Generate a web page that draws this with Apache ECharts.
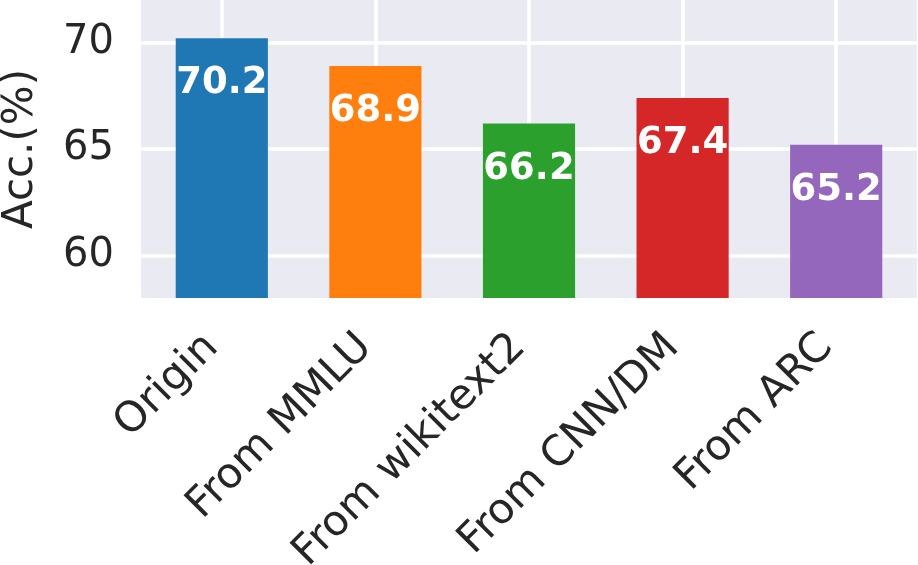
<!DOCTYPE html>
<html>
<head>
<meta charset="utf-8">
<script src="https://cdn.jsdelivr.net/npm/echarts@6/dist/echarts.min.js"></script>
<style>
html,body{margin:0;padding:0;background:#fff;}
#main{width:918px;height:565px;}
</style>
</head>
<body>
<div id="main"></div>
<script>
const categories = ['Origin', 'From MMLU', 'From wikitext2', 'From CNN/DM', 'From ARC'];
const accuracy = [70.2, 68.9, 66.2, 67.4, 65.2];
const barColors = ['#1f77b4', '#ff7f0e', '#2ca02c', '#d62728', '#9467bd'];
const yTicks = [60, 65, 70];
const yMin = 58, yMax = 72;

const FONT = '"DejaVu Sans", "Liberation Sans", sans-serif';
const TXT = '#262626';

const splitColors = [];
for (let v = yMin; v <= yMax; v++) {
  splitColors.push(yTicks.includes(v) ? '#ffffff' : 'rgba(0,0,0,0)');
}

const chart = echarts.init(document.getElementById('main'), null, {renderer: 'canvas'});
chart.setOption({
  animation: false,
  grid: [
    {left: 141, right: 1, top: 0, bottom: 267, show: true, backgroundColor: '#EAEAF2', borderWidth: 0,
     containLabel: false, outerBoundsMode: 'none'},
    {left: 145, right: 5, top: 0, bottom: 267, show: false,
     containLabel: false, outerBoundsMode: 'none'}
  ],
  xAxis: [
    {gridIndex: 0, type: 'value', show: false, min: 0, max: 1},
    {
      gridIndex: 1,
      type: 'category',
      data: categories,
      axisLine: {show: false},
      axisTick: {show: false, alignWithLabel: true},
      axisLabel: {
        rotate: 45, margin: 33, color: TXT, fontFamily: FONT, fontSize: 42, interval: 0,
        padding: [0, 14, 28, 0]
      },
      splitLine: {show: true, alignWithLabel: true, lineStyle: {color: '#ffffff', width: 3.5}}
    }
  ],
  yAxis: [
    {
      gridIndex: 0,
      type: 'value',
      min: yMin, max: yMax, interval: 1,
      name: 'Acc.(%)',
      nameLocation: 'middle',
      nameGap: 99,
      nameTextStyle: {color: TXT, fontFamily: FONT, fontSize: 42},
      axisLine: {show: false},
      axisTick: {show: false},
      axisLabel: {
        margin: 27, color: TXT, fontFamily: FONT, fontSize: 40,
        formatter: v => (yTicks.includes(v) ? String(v) : '')
      },
      splitLine: {show: true, showMinLine: true, showMaxLine: true, lineStyle: {color: splitColors, width: 3.5}}
    },
    {gridIndex: 1, type: 'value', min: yMin, max: yMax, show: false, splitLine: {show: false}}
  ],
  series: [{
    type: 'bar',
    xAxisIndex: 1,
    yAxisIndex: 1,
    barWidth: '60%',
    data: accuracy.map((v, i) => ({value: v, itemStyle: {color: barColors[i]}})),
    label: {
      show: true,
      position: 'insideTop',
      distance: 27,
      color: '#ffffff',
      fontFamily: FONT,
      fontWeight: 'bold',
      fontSize: 37,
      formatter: p => p.value.toFixed(1)
    }
  }]
});
</script>
</body>
</html>
